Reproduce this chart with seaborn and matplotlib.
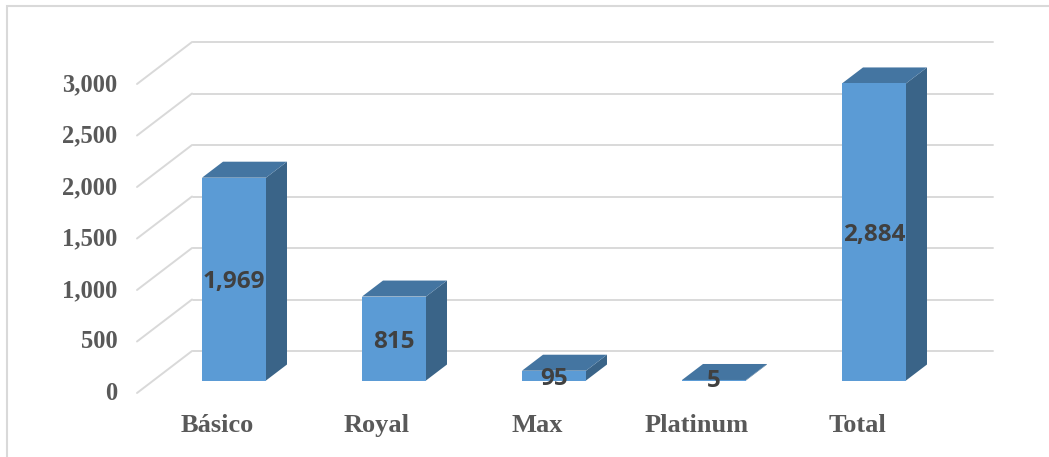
import matplotlib
matplotlib.use("Agg")
import matplotlib.pyplot as plt
import pandas as pd
import seaborn as sns
from matplotlib.patches import Polygon, Rectangle
from matplotlib.transforms import Affine2D

# Values
plans = ["Básico", "Royal", "Max", "Platinum", "Total"]
counts = [1969, 815, 95, 5, 2884]
y_ticks = [0, 500, 1000, 1500, 2000, 2500, 3000]

df = pd.DataFrame({"plan": plans, "count": counts})

W, H = 1049, 457
FRONT = "#5b9bd5"
TOP = "#4475a1"
SIDE = "#3a6488"
GRID = "#d9d9d9"
TEXT = "#595959"
SERIF = "Liberation Serif"

sns.set_theme(style="white")
fig = plt.figure(figsize=(W / 100, H / 100), dpi=100)

# axes = front plane of the fake 3D box, in pixels
left, right, bottom, top = 137, 937, 393, 84
ax = fig.add_axes([left / W, 1 - bottom / H, (right - left) / W, (bottom - top) / H])

sns.barplot(data=df, x="plan", y="count", color=FRONT, saturation=1, width=0.4, ax=ax, zorder=3)
ax.set_xlim(-0.5, 4.5)
ax.set_ylim(0, 3000)
ax.set_xlabel("")
ax.set_ylabel("")
ax.patch.set_alpha(0)
sns.despine(ax=ax, left=True, bottom=True)

# pixel shifts: bars sit part way into the box, walls at the back of it
bar_shift = ax.transData + Affine2D().translate(17, 12.5)
depth_x, depth_y = 21, 16
wall_x, wall_y = 56, 42

for bar in ax.patches:
    bar.set_transform(bar_shift)
    bar.set_linewidth(0)
for bar in list(ax.patches):
    x0, w, h = bar.get_x(), bar.get_width(), bar.get_height()
    p0 = bar_shift.transform([(x0, 0), (x0 + w, 0), (x0 + w, h), (x0, h)])
    top_pts = [p0[3], p0[2], p0[2] + (depth_x, depth_y), p0[3] + (depth_x, depth_y)]
    side_pts = [p0[1], p0[1] + (depth_x, depth_y), p0[2] + (depth_x, depth_y), p0[2]]
    fig.add_artist(Polygon(side_pts, closed=True, transform=None, fc=SIDE, lw=0, zorder=4))
    fig.add_artist(Polygon(top_pts, closed=True, transform=None, fc=TOP, lw=0, zorder=4))
    fig.add_artist(Polygon(p0, closed=True, transform=None, fc=FRONT, lw=0, zorder=4))

# gridlines on the back wall plus the diagonals on the left wall
wall = ax.transData + Affine2D().translate(wall_x, wall_y)
for v in y_ticks:
    ax.plot([-0.5, 4.5], [v, v], color=GRID, lw=1.4, transform=wall, clip_on=False, zorder=1)
    p = ax.transData.transform((-0.5, v))
    ax.plot([p[0], p[0] + wall_x - 1], [p[1], p[1] + wall_y], color=GRID, lw=1.4,
            transform=None, clip_on=False, zorder=1)

# tick labels
ax.set_yticks(y_ticks)
ax.set_yticklabels([f"{v:,}" for v in y_ticks], family=SERIF, weight="bold", fontsize=17.7, color=TEXT)
ax.tick_params(axis="y", length=0, pad=14)
ax.tick_params(axis="x", length=0, pad=15)
ax.set_xticks(range(len(plans)))
ax.set_xticklabels(plans, family=SERIF, weight="bold", fontsize=19, color=TEXT)

# nudge the y labels up a little
for lab in ax.get_yticklabels():
    lab.set_transform(lab.get_transform() + Affine2D().translate(0, 2))

# value labels, centred on each bar's front face
for i, v in enumerate(counts):
    px = bar_shift.transform((i, v / 2))
    label_y = max(px[1], H - 378) - 3
    fig.text(px[0] / W, label_y / H, f"{v:,}", ha="center", va="center", family="Open Sans",
             weight="bold", fontsize=17.5, color="#404040", zorder=6)

# chart border
fig.add_artist(Rectangle((7 / W, -0.01), 1.1, 1 - 6 / H + 0.01, transform=fig.transFigure,
                         fc="none", ec=GRID, lw=1.5, zorder=0))

fig.savefig("out.png", dpi=100)
